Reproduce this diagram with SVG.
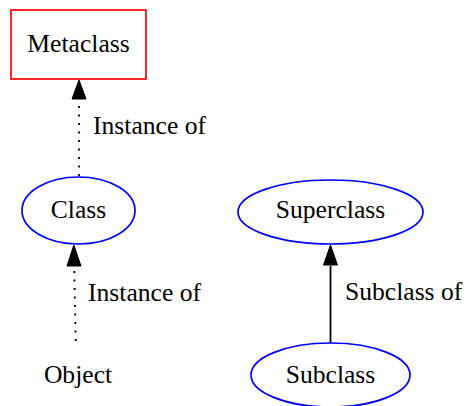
<svg xmlns="http://www.w3.org/2000/svg" width="467" height="406" viewBox="0 0 467 406">
<style>
text { font-family: "Liberation Serif", "Times New Roman", serif; font-size: 25.6px; fill: #000; }
.c { text-anchor: middle; }
.ell { fill: none; stroke: #0000ff; stroke-width: 1.7; }
.box { fill: none; stroke: #ff0000; stroke-width: 1.7; }
.edge { fill: none; stroke: #000; stroke-width: 1.8; }
.dot { stroke-dasharray: 2 6.5; }
.head { fill: #000; stroke: #000; stroke-width: 1; }
</style>
<rect width="467" height="406" fill="#fff"/>
<g id="connectors">
  <g id="e-class-metaclass">
    <path class="edge dot" d="M79,176 L79,100"/>
    <polygon class="head" points="79,80 72,99 86,99"/>
    <text x="93" y="134">Instance of</text>
  </g>
  <g id="e-object-class">
    <path class="edge dot" d="M75.7,341 L74.2,267"/>
    <polygon class="head" points="73.8,245 67,266 81,266"/>
    <text x="88" y="301">Instance of</text>
  </g>
  <g id="e-subclass-superclass">
    <path class="edge" d="M330.5,343 L330.5,266"/>
    <polygon class="head" points="330.5,245 323.5,265 337.5,265"/>
    <text x="345" y="300">Subclass of</text>
  </g>
</g>
<g id="metaclass">
  <rect class="box" x="11" y="10" width="135" height="69"/>
  <text class="c" x="78.5" y="52">Metaclass</text>
</g>
<g id="class">
  <ellipse class="ell" cx="78.5" cy="210.5" rx="56.5" ry="33.5"/>
  <text class="c" x="78.5" y="218">Class</text>
</g>
<g id="object">
  <text class="c" x="78" y="383">Object</text>
</g>
<g id="superclass">
  <ellipse class="ell" cx="330.5" cy="212" rx="92.5" ry="32"/>
  <text class="c" x="330.5" y="218">Superclass</text>
</g>
<g id="subclass">
  <ellipse class="ell" cx="330.5" cy="375" rx="79.5" ry="32"/>
  <text class="c" x="330.5" y="383">Subclass</text>
</g>
</svg>
